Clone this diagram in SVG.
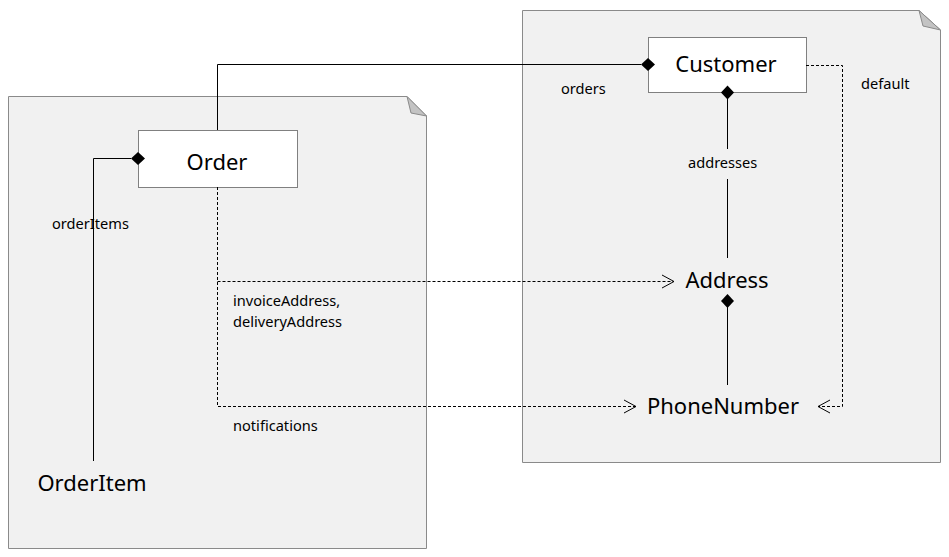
<svg xmlns="http://www.w3.org/2000/svg" width="949" height="557" viewBox="0 0 949 557">
<style>
.page{fill:#f1f1f1;stroke:#8a8a8a;stroke-width:1}
.fold{fill:#c3c3c3;stroke:#8a8a8a;stroke-width:1}
.box{fill:#ffffff;stroke:#808080;stroke-width:1}
.node{font-family:"Noto Sans","Open Sans",sans-serif;font-size:22px;fill:#000;text-anchor:middle}
.lbl{font-family:"Noto Sans","Open Sans",sans-serif;font-size:14.6px;fill:#000}
.solid{fill:none;stroke:#000;stroke-width:1}
.dash{fill:none;stroke:#000;stroke-width:1;stroke-dasharray:3,2}
.dia{fill:#000}
.arrow{fill:none;stroke:#000;stroke-width:1}
</style>
<g id="pages">
<path class="page" d="M8.5,96.5 H407 L426.5,116 V548.5 H8.5 Z"/>
<path class="fold" d="M407,96.5 L411,113 L426.5,116 Z"/>
<path class="page" d="M522.5,10.5 H919 L940.5,30 V462.5 H522.5 Z"/>
<path class="fold" d="M919,10.5 L923,26 L940.5,30 Z"/>
</g>
<g id="Order">
<rect class="box" x="138.5" y="130.5" width="159" height="57"/>
<text class="node" x="217" y="170">Order</text>
</g>
<g id="Customer">
<rect class="box" x="648.5" y="37.5" width="158" height="55"/>
<text class="node" x="726" y="72">Customer</text>
</g>
<g id="Address">
<text class="node" x="727" y="288">Address</text>
</g>
<g id="PhoneNumber">
<text class="node" x="723" y="414">PhoneNumber</text>
</g>
<g id="OrderItem">
<text class="node" x="92" y="491">OrderItem</text>
</g>
<g id="connectors">
<path class="solid" d="M217.5,130 V64.5 H641"/>
<path class="dia" d="M641,64.5 L648,58 L655,64.5 L648,71 Z"/>
<path class="solid" d="M93.5,461 V158.5 H131"/>
<path class="dia" d="M131,158.5 L138,152 L145,158.5 L138,165 Z"/>
<path class="solid" d="M727.5,99 V149 M727.5,179 V258"/>
<path class="dia" d="M727.5,85.5 L734,92.5 L727.5,99.5 L721,92.5 Z"/>
<path class="solid" d="M727.5,307 V385"/>
<path class="dia" d="M727.5,294 L734,301 L727.5,308 L721,301 Z"/>
<path class="dash" d="M217.5,187 V406.5 H636"/>
<path class="dash" d="M217.5,281.5 H674"/>
<path class="arrow" d="M662,275 L674,281.5 L662,288"/>
<path class="arrow" d="M624,400 L636,406.5 L624,413"/>
<path class="dash" d="M806,65.5 H842.5 V406.5 H818"/>
<path class="arrow" d="M830,400 L818,406.5 L830,413"/>
<text class="lbl" x="561" y="94">orders</text>
<text class="lbl" x="861" y="89">default</text>
<text class="lbl" x="688" y="168">addresses</text>
<text class="lbl" x="52" y="229">orderItems</text>
<text class="lbl" x="233" y="306">invoiceAddress,</text>
<text class="lbl" x="233" y="327">deliveryAddress</text>
<text class="lbl" x="233" y="431">notifications</text>
</g>
</svg>
